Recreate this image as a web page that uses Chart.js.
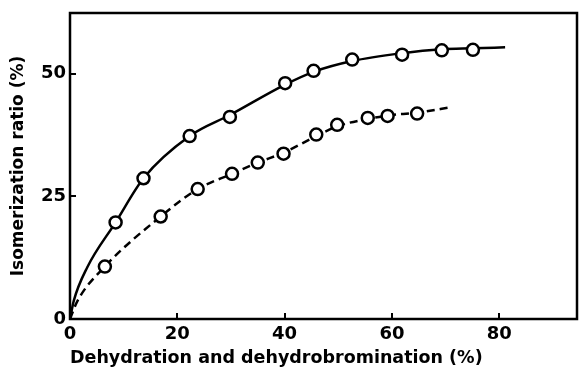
<!DOCTYPE html>
<html>
<head>
<meta charset="utf-8">
<title>Isomerization ratio</title>
<script src="https://cdn.jsdelivr.net/npm/chart.js@4"></script>
<style>
  html, body { margin: 0; padding: 0; background: #fff; }
  #wrap { width: 579px; height: 370px; }
</style>
</head>
<body>
<div id="wrap"><canvas id="chart" width="579" height="370"></canvas></div>
<script>
// Measured points (open circles)
const solidX = [8.5, 13.7, 22.3, 29.8, 40.1, 45.4, 52.6, 61.9, 69.3, 75.1];
const solidY = [19.7, 28.7, 37.3, 41.2, 48.1, 50.6, 52.9, 53.9, 54.8, 54.9];
const dashedX = [6.5, 16.9, 23.8, 30.2, 35.0, 39.8, 45.9, 49.8, 55.5, 59.2, 64.7];
const dashedY = [10.7, 20.9, 26.5, 29.6, 31.9, 33.7, 37.6, 39.6, 41.0, 41.4, 41.9];

// Hand drawn curves
const solidCurveX = [0, 0.7, 3.2, 8.5, 13.7, 22.3, 29.8, 40.1, 45.4, 52.6, 61.9, 69.3, 75.1, 81.1];
const solidCurveY = [0, 3.7, 10.5, 19.7, 28.7, 37.3, 41.6, 47.8, 50.4, 52.6, 54.2, 55.0, 55.2, 55.4];
const dashedCurveX = [0, 1.4, 6.5, 16.9, 23.8, 30.2, 35.0, 39.8, 45.9, 49.8, 55.5, 59.2, 64.7, 71.2];
const dashedCurveY = [0, 3.7, 10.7, 20.9, 26.5, 29.6, 31.9, 33.9, 37.3, 39.3, 40.8, 41.5, 42.1, 43.2];

// Axes
const xTicks = [0, 20, 40, 60, 80];
const yTicks = [0, 25, 50];
const xMax = 94.5;
const yMax = 62.4;

const toPoints = (xs, ys) => xs.map((x, i) => ({ x, y: ys[i] }));

// Draw the closed frame around the plot area
const framePlugin = {
  id: 'frame',
  afterDraw: chart => {
    const { ctx, chartArea: a } = chart;
    ctx.save();
    ctx.strokeStyle = '#000';
    ctx.lineWidth = 2.5;
    ctx.strokeRect(a.left, a.top, a.right - a.left, a.bottom - a.top);
    ctx.restore();
  },
};

// Fixed box sizes so the plot area sits where it does in the scan
const fixBox = size => scale => {
  if (scale.isHorizontal()) scale.height = size;
  else scale.width = size;
  scale.paddingTop = 0;
  scale.paddingBottom = 0;
  scale.paddingLeft = 0;
  scale.paddingRight = 0;
};

const markerStyle = {
  showLine: false,
  pointStyle: 'circle',
  pointRadius: 6,
  pointBorderWidth: 2.5,
  pointBorderColor: '#000',
  pointBackgroundColor: '#fff',
};

const curveStyle = {
  showLine: true,
  pointRadius: 0,
  borderColor: '#000',
  borderWidth: 2.5,
  cubicInterpolationMode: 'monotone',
  fill: false,
};

const tickFont = { family: 'DejaVu Sans', size: 18, weight: 'bold' };

new Chart(document.getElementById('chart'), {
  type: 'scatter',
  data: {
    datasets: [
      { ...markerStyle, data: toPoints(solidX, solidY) },
      { ...markerStyle, data: toPoints(dashedX, dashedY) },
      { ...curveStyle, data: toPoints(solidCurveX, solidCurveY) },
      { ...curveStyle, borderDash: [8, 5], data: toPoints(dashedCurveX, dashedCurveY) },
    ],
  },
  options: {
    responsive: false,
    animation: false,
    layout: { autoPadding: false, padding: { top: 13, right: 2, left: 0, bottom: 0 } },
    plugins: {
      legend: { display: false },
      tooltip: { enabled: false },
    },
    scales: {
      x: {
        type: 'linear',
        min: 0,
        max: xMax,
        afterFit: fixBox(51),
        afterBuildTicks: scale => { scale.ticks = xTicks.map(value => ({ value })); },
        border: { display: false },
        grid: { drawOnChartArea: false, tickLength: -6, lineWidth: 2, color: '#000' },
        ticks: { color: '#000', font: tickFont, padding: 11, maxRotation: 0 },
        title: {
          display: true,
          text: 'Dehydration and dehydrobromination (%)',
          align: 'start',
          color: '#000',
          font: { family: 'DejaVu Sans', size: 17.5, weight: 'bold' },
          padding: { top: 0, bottom: 1 },
        },
      },
      y: {
        type: 'linear',
        min: 0,
        max: yMax,
        afterFit: fixBox(70),
        afterBuildTicks: scale => { scale.ticks = yTicks.map(value => ({ value })); },
        border: { display: false },
        grid: { drawOnChartArea: false, tickLength: -6, lineWidth: 2, color: '#000' },
        ticks: { color: '#000', font: tickFont, padding: 10 },
        title: {
          display: true,
          text: 'Isomerization ratio (%)',
          color: '#000',
          font: { family: 'DejaVu Sans', size: 17, weight: 'bold' },
          padding: { top: 8, bottom: 0 },
        },
      },
    },
  },
  plugins: [framePlugin],
});
</script>
</body>
</html>
